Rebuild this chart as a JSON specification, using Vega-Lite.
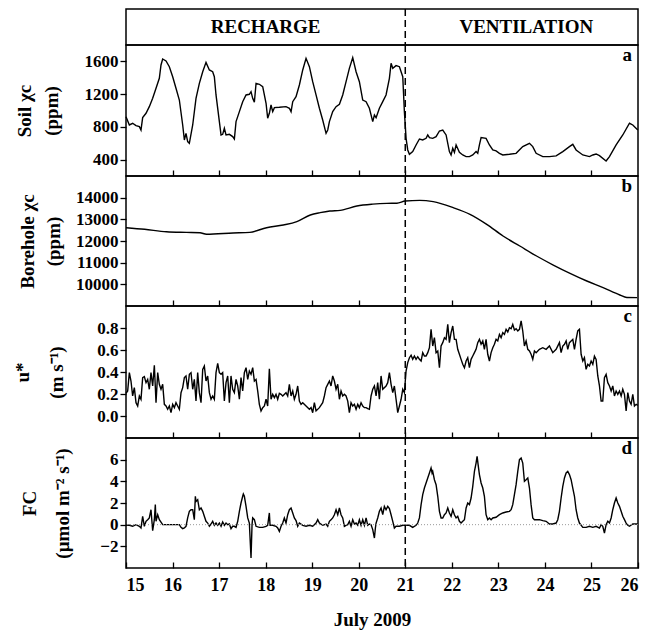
{
"$schema": "https://vega.github.io/schema/vega-lite/v6.json",
"background": "white",
"padding": {"left": 12, "top": 7, "right": 0, "bottom": 0},
"bounds": "flush",
"spacing": 0,
"config": {
  "font": "Liberation Serif",
  "view": {"stroke": "black", "strokeWidth": 1.5},
  "axis": {"labelFont": "Liberation Serif", "labelFontWeight": "bold", "labelFontSize": 17, "labelColor": "black", "labelOverlap": false, "labelSeparation": 0, "tickColor": "black", "tickWidth": 1.3, "domain": false, "grid": false, "titleFont": "Liberation Serif", "titleFontWeight": "bold", "titleFontSize": 19, "titleColor": "black"},
  "title": {"font": "Liberation Serif", "fontWeight": "bold", "fontSize": 19, "color": "black", "anchor": "end", "frame": "group", "baseline": "alphabetic", "offset": -21, "dx": -6},
  "line": {"color": "black", "strokeWidth": 1.4},
  "text": {"font": "Liberation Serif", "fontWeight": "bold", "color": "black"}
},
"datasets": {
  "phases": [{"day": 18.0, "phase": "RECHARGE"}, {"day": 23.6, "phase": "VENTILATION"}],
  "boundary": [{"day": 21}],
  "soil": [
{"day":15.000,"value":925},{"day":15.072,"value":823},{"day":15.143,"value":844},{"day":15.215,"value":815},{"day":15.287,"value":803},{"day":15.322,"value":762},{"day":15.358,"value":913},{"day":15.430,"value":966},{"day":15.501,"value":1047},{"day":15.573,"value":1149},{"day":15.645,"value":1271},{"day":15.716,"value":1393},{"day":15.752,"value":1556},{"day":15.788,"value":1629},{"day":15.860,"value":1605},{"day":15.931,"value":1535},{"day":16.003,"value":1413},{"day":16.074,"value":1271},{"day":16.146,"value":1128},{"day":16.218,"value":823},{"day":16.254,"value":640},{"day":16.289,"value":721},{"day":16.325,"value":620},{"day":16.361,"value":599},{"day":16.433,"value":823},{"day":16.504,"value":1149},{"day":16.576,"value":1332},{"day":16.648,"value":1474},{"day":16.719,"value":1588},{"day":16.791,"value":1495},{"day":16.862,"value":1474},{"day":16.898,"value":1413},{"day":16.934,"value":1190},{"day":17.006,"value":864},{"day":17.042,"value":701},{"day":17.077,"value":709},{"day":17.113,"value":783},{"day":17.149,"value":701},{"day":17.221,"value":709},{"day":17.292,"value":681},{"day":17.328,"value":652},{"day":17.364,"value":864},{"day":17.436,"value":986},{"day":17.507,"value":1108},{"day":17.579,"value":1190},{"day":17.650,"value":1198},{"day":17.686,"value":1230},{"day":17.722,"value":1149},{"day":17.758,"value":1100},{"day":17.794,"value":1332},{"day":17.865,"value":1320},{"day":17.937,"value":1291},{"day":18.009,"value":1088},{"day":18.044,"value":905},{"day":18.080,"value":966},{"day":18.116,"value":1067},{"day":18.152,"value":986},{"day":18.188,"value":1035},{"day":18.295,"value":1039},{"day":18.438,"value":1047},{"day":18.510,"value":1027},{"day":18.546,"value":986},{"day":18.582,"value":1108},{"day":18.653,"value":1169},{"day":18.725,"value":1312},{"day":18.797,"value":1495},{"day":18.868,"value":1637},{"day":18.940,"value":1535},{"day":19.011,"value":1352},{"day":19.083,"value":1190},{"day":19.155,"value":1027},{"day":19.226,"value":884},{"day":19.298,"value":721},{"day":19.334,"value":762},{"day":19.370,"value":864},{"day":19.441,"value":986},{"day":19.513,"value":1047},{"day":19.585,"value":1076},{"day":19.656,"value":1190},{"day":19.728,"value":1352},{"day":19.799,"value":1515},{"day":19.871,"value":1645},{"day":19.943,"value":1474},{"day":20.014,"value":1352},{"day":20.086,"value":1128},{"day":20.158,"value":1108},{"day":20.229,"value":1027},{"day":20.301,"value":864},{"day":20.337,"value":945},{"day":20.373,"value":913},{"day":20.444,"value":1027},{"day":20.516,"value":1108},{"day":20.587,"value":1190},{"day":20.659,"value":1393},{"day":20.695,"value":1576},{"day":20.731,"value":1515},{"day":20.802,"value":1548},{"day":20.874,"value":1535},{"day":20.946,"value":1413},{"day":20.981,"value":986},{"day":21.017,"value":660},{"day":21.053,"value":518},{"day":21.089,"value":465},{"day":21.160,"value":498},{"day":21.232,"value":579},{"day":21.304,"value":652},{"day":21.375,"value":640},{"day":21.447,"value":660},{"day":21.483,"value":701},{"day":21.519,"value":669},{"day":21.590,"value":660},{"day":21.662,"value":681},{"day":21.734,"value":750},{"day":21.805,"value":762},{"day":21.877,"value":701},{"day":21.948,"value":498},{"day":21.984,"value":457},{"day":22.020,"value":538},{"day":22.056,"value":489},{"day":22.092,"value":579},{"day":22.163,"value":489},{"day":22.235,"value":457},{"day":22.307,"value":437},{"day":22.378,"value":437},{"day":22.450,"value":457},{"day":22.521,"value":498},{"day":22.557,"value":477},{"day":22.593,"value":579},{"day":22.629,"value":669},{"day":22.736,"value":660},{"day":22.808,"value":579},{"day":22.880,"value":518},{"day":22.951,"value":506},{"day":23.023,"value":477},{"day":23.095,"value":457},{"day":23.238,"value":465},{"day":23.381,"value":477},{"day":23.524,"value":559},{"day":23.668,"value":599},{"day":23.739,"value":559},{"day":23.811,"value":477},{"day":23.954,"value":437},{"day":24.097,"value":437},{"day":24.241,"value":445},{"day":24.384,"value":498},{"day":24.527,"value":559},{"day":24.599,"value":587},{"day":24.670,"value":518},{"day":24.814,"value":457},{"day":24.957,"value":437},{"day":25.029,"value":457},{"day":25.100,"value":469},{"day":25.172,"value":449},{"day":25.315,"value":384},{"day":25.387,"value":437},{"day":25.530,"value":579},{"day":25.673,"value":701},{"day":25.817,"value":844},{"day":25.888,"value":823},{"day":25.996,"value":762}
  ],
  "borehole": [
{"day":15.00,"value":12614},{"day":15.40,"value":12540},{"day":15.87,"value":12430},{"day":16.30,"value":12400},{"day":16.59,"value":12383},{"day":16.73,"value":12310},{"day":17.30,"value":12369},{"day":17.66,"value":12400},{"day":18.02,"value":12614},{"day":18.38,"value":12738},{"day":18.67,"value":12892},{"day":18.96,"value":13200},{"day":19.17,"value":13308},{"day":19.38,"value":13385},{"day":19.60,"value":13415},{"day":19.96,"value":13615},{"day":20.30,"value":13700},{"day":20.60,"value":13738},{"day":20.82,"value":13745},{"day":21.00,"value":13846},{"day":21.31,"value":13877},{"day":21.60,"value":13815},{"day":22.03,"value":13538},{"day":22.39,"value":13231},{"day":22.75,"value":12769},{"day":23.10,"value":12231},{"day":23.46,"value":11769},{"day":23.82,"value":11308},{"day":24.18,"value":10892},{"day":24.54,"value":10508},{"day":24.90,"value":10154},{"day":25.25,"value":9846},{"day":25.61,"value":9508},{"day":25.76,"value":9390},{"day":25.98,"value":9385}
  ],
  "ustar": [
{"day":15.000,"value":0.206},{"day":15.036,"value":0.227},{"day":15.072,"value":0.394},{"day":15.107,"value":0.318},{"day":15.143,"value":0.182},{"day":15.179,"value":0.258},{"day":15.215,"value":0.121},{"day":15.251,"value":0.091},{"day":15.287,"value":0.182},{"day":15.322,"value":0.152},{"day":15.358,"value":0.349},{"day":15.394,"value":0.358},{"day":15.430,"value":0.303},{"day":15.466,"value":0.333},{"day":15.501,"value":0.243},{"day":15.537,"value":0.394},{"day":15.573,"value":0.273},{"day":15.609,"value":0.461},{"day":15.645,"value":0.121},{"day":15.681,"value":0.394},{"day":15.716,"value":0.288},{"day":15.752,"value":0.243},{"day":15.788,"value":0.288},{"day":15.824,"value":0.106},{"day":15.860,"value":0.091},{"day":15.895,"value":0.061},{"day":15.931,"value":0.091},{"day":15.967,"value":0.030},{"day":16.003,"value":0.106},{"day":16.039,"value":0.076},{"day":16.074,"value":0.121},{"day":16.110,"value":0.091},{"day":16.146,"value":0.061},{"day":16.182,"value":0.212},{"day":16.218,"value":0.258},{"day":16.254,"value":0.349},{"day":16.289,"value":0.364},{"day":16.325,"value":0.243},{"day":16.361,"value":0.379},{"day":16.397,"value":0.394},{"day":16.433,"value":0.243},{"day":16.468,"value":0.333},{"day":16.504,"value":0.136},{"day":16.540,"value":0.394},{"day":16.576,"value":0.212},{"day":16.612,"value":0.121},{"day":16.648,"value":0.424},{"day":16.683,"value":0.455},{"day":16.719,"value":0.318},{"day":16.755,"value":0.364},{"day":16.791,"value":0.212},{"day":16.827,"value":0.152},{"day":16.862,"value":0.182},{"day":16.898,"value":0.152},{"day":16.934,"value":0.394},{"day":16.970,"value":0.479},{"day":17.006,"value":0.394},{"day":17.042,"value":0.379},{"day":17.077,"value":0.394},{"day":17.113,"value":0.136},{"day":17.149,"value":0.303},{"day":17.185,"value":0.364},{"day":17.221,"value":0.121},{"day":17.256,"value":0.364},{"day":17.292,"value":0.243},{"day":17.328,"value":0.212},{"day":17.364,"value":0.333},{"day":17.400,"value":0.273},{"day":17.436,"value":0.152},{"day":17.471,"value":0.349},{"day":17.507,"value":0.227},{"day":17.543,"value":0.394},{"day":17.579,"value":0.439},{"day":17.615,"value":0.333},{"day":17.650,"value":0.409},{"day":17.686,"value":0.379},{"day":17.722,"value":0.439},{"day":17.758,"value":0.318},{"day":17.794,"value":0.333},{"day":17.830,"value":0.227},{"day":17.865,"value":0.106},{"day":17.901,"value":0.046},{"day":17.937,"value":0.076},{"day":17.973,"value":0.091},{"day":18.009,"value":0.152},{"day":18.044,"value":0.091},{"day":18.080,"value":0.430},{"day":18.116,"value":0.152},{"day":18.152,"value":0.197},{"day":18.188,"value":0.167},{"day":18.223,"value":0.197},{"day":18.259,"value":0.152},{"day":18.295,"value":0.206},{"day":18.331,"value":0.197},{"day":18.367,"value":0.182},{"day":18.438,"value":0.212},{"day":18.474,"value":0.182},{"day":18.510,"value":0.288},{"day":18.546,"value":0.182},{"day":18.582,"value":0.227},{"day":18.617,"value":0.152},{"day":18.653,"value":0.197},{"day":18.689,"value":0.273},{"day":18.725,"value":0.136},{"day":18.761,"value":0.106},{"day":18.797,"value":0.121},{"day":18.868,"value":0.091},{"day":18.940,"value":0.061},{"day":18.976,"value":0.076},{"day":19.011,"value":0.030},{"day":19.047,"value":0.121},{"day":19.083,"value":0.046},{"day":19.155,"value":0.076},{"day":19.226,"value":0.121},{"day":19.262,"value":0.182},{"day":19.298,"value":0.258},{"day":19.334,"value":0.288},{"day":19.370,"value":0.318},{"day":19.405,"value":0.273},{"day":19.441,"value":0.364},{"day":19.477,"value":0.318},{"day":19.513,"value":0.243},{"day":19.549,"value":0.288},{"day":19.585,"value":0.152},{"day":19.620,"value":0.227},{"day":19.656,"value":0.182},{"day":19.692,"value":0.197},{"day":19.728,"value":0.182},{"day":19.764,"value":0.136},{"day":19.799,"value":0.030},{"day":19.835,"value":0.121},{"day":19.871,"value":0.091},{"day":19.907,"value":0.106},{"day":19.943,"value":0.061},{"day":19.979,"value":0.106},{"day":20.014,"value":0.076},{"day":20.050,"value":0.121},{"day":20.086,"value":0.091},{"day":20.122,"value":0.076},{"day":20.158,"value":0.076},{"day":20.193,"value":0.067},{"day":20.229,"value":0.061},{"day":20.265,"value":0.182},{"day":20.301,"value":0.243},{"day":20.337,"value":0.273},{"day":20.373,"value":0.182},{"day":20.408,"value":0.303},{"day":20.444,"value":0.152},{"day":20.480,"value":0.364},{"day":20.516,"value":0.243},{"day":20.587,"value":0.273},{"day":20.623,"value":0.303},{"day":20.659,"value":0.394},{"day":20.695,"value":0.288},{"day":20.731,"value":0.212},{"day":20.766,"value":0.273},{"day":20.802,"value":0.152},{"day":20.838,"value":0.030},{"day":20.874,"value":0.091},{"day":20.910,"value":0.152},{"day":20.946,"value":0.243},{"day":20.981,"value":0.212},{"day":21.017,"value":0.409},{"day":21.053,"value":0.485},{"day":21.089,"value":0.530},{"day":21.125,"value":0.552},{"day":21.160,"value":0.515},{"day":21.196,"value":0.545},{"day":21.232,"value":0.515},{"day":21.268,"value":0.539},{"day":21.304,"value":0.515},{"day":21.340,"value":0.500},{"day":21.375,"value":0.576},{"day":21.411,"value":0.545},{"day":21.447,"value":0.545},{"day":21.483,"value":0.576},{"day":21.519,"value":0.621},{"day":21.554,"value":0.788},{"day":21.590,"value":0.636},{"day":21.626,"value":0.712},{"day":21.662,"value":0.576},{"day":21.698,"value":0.591},{"day":21.734,"value":0.439},{"day":21.769,"value":0.636},{"day":21.805,"value":0.667},{"day":21.841,"value":0.712},{"day":21.877,"value":0.697},{"day":21.913,"value":0.833},{"day":21.948,"value":0.667},{"day":21.984,"value":0.758},{"day":22.020,"value":0.818},{"day":22.056,"value":0.697},{"day":22.092,"value":0.697},{"day":22.127,"value":0.606},{"day":22.163,"value":0.561},{"day":22.199,"value":0.515},{"day":22.235,"value":0.470},{"day":22.271,"value":0.439},{"day":22.307,"value":0.500},{"day":22.342,"value":0.530},{"day":22.378,"value":0.439},{"day":22.414,"value":0.515},{"day":22.450,"value":0.545},{"day":22.486,"value":0.576},{"day":22.521,"value":0.606},{"day":22.557,"value":0.667},{"day":22.593,"value":0.697},{"day":22.629,"value":0.652},{"day":22.665,"value":0.682},{"day":22.700,"value":0.606},{"day":22.736,"value":0.697},{"day":22.772,"value":0.561},{"day":22.808,"value":0.500},{"day":22.844,"value":0.576},{"day":22.880,"value":0.621},{"day":22.915,"value":0.652},{"day":22.951,"value":0.697},{"day":22.987,"value":0.682},{"day":23.023,"value":0.742},{"day":23.059,"value":0.712},{"day":23.095,"value":0.758},{"day":23.130,"value":0.742},{"day":23.166,"value":0.788},{"day":23.202,"value":0.764},{"day":23.238,"value":0.803},{"day":23.274,"value":0.794},{"day":23.309,"value":0.833},{"day":23.345,"value":0.782},{"day":23.381,"value":0.794},{"day":23.417,"value":0.773},{"day":23.453,"value":0.788},{"day":23.489,"value":0.864},{"day":23.524,"value":0.773},{"day":23.560,"value":0.636},{"day":23.596,"value":0.682},{"day":23.632,"value":0.606},{"day":23.668,"value":0.591},{"day":23.703,"value":0.561},{"day":23.739,"value":0.515},{"day":23.775,"value":0.591},{"day":23.811,"value":0.576},{"day":23.882,"value":0.606},{"day":23.954,"value":0.621},{"day":24.026,"value":0.606},{"day":24.097,"value":0.636},{"day":24.169,"value":0.576},{"day":24.241,"value":0.606},{"day":24.312,"value":0.667},{"day":24.348,"value":0.576},{"day":24.384,"value":0.636},{"day":24.420,"value":0.652},{"day":24.456,"value":0.682},{"day":24.491,"value":0.606},{"day":24.527,"value":0.667},{"day":24.599,"value":0.697},{"day":24.635,"value":0.606},{"day":24.670,"value":0.697},{"day":24.706,"value":0.773},{"day":24.742,"value":0.788},{"day":24.778,"value":0.561},{"day":24.814,"value":0.500},{"day":24.849,"value":0.530},{"day":24.885,"value":0.424},{"day":24.921,"value":0.470},{"day":24.957,"value":0.455},{"day":24.993,"value":0.500},{"day":25.029,"value":0.470},{"day":25.064,"value":0.545},{"day":25.100,"value":0.515},{"day":25.136,"value":0.364},{"day":25.172,"value":0.273},{"day":25.208,"value":0.136},{"day":25.243,"value":0.136},{"day":25.279,"value":0.349},{"day":25.315,"value":0.379},{"day":25.351,"value":0.303},{"day":25.387,"value":0.273},{"day":25.423,"value":0.227},{"day":25.458,"value":0.273},{"day":25.494,"value":0.182},{"day":25.530,"value":0.227},{"day":25.566,"value":0.197},{"day":25.602,"value":0.227},{"day":25.638,"value":0.182},{"day":25.673,"value":0.243},{"day":25.709,"value":0.197},{"day":25.745,"value":0.046},{"day":25.781,"value":0.212},{"day":25.817,"value":0.136},{"day":25.852,"value":0.106},{"day":25.888,"value":0.197},{"day":25.924,"value":0.091},{"day":25.960,"value":0.106},{"day":25.996,"value":0.097}
  ],
  "fc": [
{"day":15.000,"value":-0.06},{"day":15.072,"value":-0.06},{"day":15.143,"value":-0.15},{"day":15.215,"value":0.0},{"day":15.287,"value":-0.15},{"day":15.322,"value":-0.31},{"day":15.358,"value":0.77},{"day":15.394,"value":-0.15},{"day":15.430,"value":0.31},{"day":15.466,"value":0.46},{"day":15.501,"value":0.62},{"day":15.537,"value":1.38},{"day":15.573,"value":-0.55},{"day":15.609,"value":0.46},{"day":15.630,"value":1.85},{"day":15.645,"value":0.31},{"day":15.681,"value":0.92},{"day":15.716,"value":0.46},{"day":15.788,"value":0.0},{"day":15.860,"value":0.0},{"day":15.931,"value":0.0},{"day":16.003,"value":0.0},{"day":16.074,"value":0.0},{"day":16.146,"value":0.0},{"day":16.182,"value":-0.25},{"day":16.218,"value":-0.37},{"day":16.254,"value":-0.31},{"day":16.289,"value":-0.15},{"day":16.325,"value":0.62},{"day":16.361,"value":1.23},{"day":16.397,"value":1.38},{"day":16.433,"value":1.38},{"day":16.468,"value":0.46},{"day":16.490,"value":2.62},{"day":16.504,"value":2.15},{"day":16.540,"value":2.31},{"day":16.576,"value":1.38},{"day":16.612,"value":1.54},{"day":16.648,"value":1.23},{"day":16.683,"value":0.77},{"day":16.719,"value":0.31},{"day":16.755,"value":0.15},{"day":16.791,"value":-0.15},{"day":16.827,"value":0.06},{"day":16.862,"value":0.31},{"day":16.898,"value":-0.06},{"day":16.934,"value":0.15},{"day":16.970,"value":-0.06},{"day":17.006,"value":0.15},{"day":17.042,"value":-0.15},{"day":17.077,"value":0.25},{"day":17.113,"value":-0.06},{"day":17.149,"value":0.15},{"day":17.185,"value":0.0},{"day":17.221,"value":0.06},{"day":17.256,"value":-0.37},{"day":17.292,"value":-0.15},{"day":17.328,"value":-0.15},{"day":17.364,"value":-0.25},{"day":17.400,"value":0.31},{"day":17.436,"value":1.23},{"day":17.471,"value":2.0},{"day":17.507,"value":2.62},{"day":17.521,"value":2.83},{"day":17.543,"value":2.62},{"day":17.579,"value":1.69},{"day":17.615,"value":0.62},{"day":17.650,"value":0.15},{"day":17.686,"value":-3.08},{"day":17.708,"value":0.0},{"day":17.722,"value":0.62},{"day":17.758,"value":0.46},{"day":17.794,"value":-0.15},{"day":17.865,"value":-0.25},{"day":17.937,"value":-0.25},{"day":18.009,"value":-0.15},{"day":18.044,"value":-0.06},{"day":18.080,"value":1.08},{"day":18.095,"value":-0.06},{"day":18.152,"value":-0.06},{"day":18.223,"value":-0.15},{"day":18.259,"value":-0.31},{"day":18.295,"value":-0.62},{"day":18.331,"value":-0.15},{"day":18.367,"value":0.15},{"day":18.402,"value":0.62},{"day":18.438,"value":0.15},{"day":18.474,"value":0.92},{"day":18.510,"value":1.38},{"day":18.546,"value":1.54},{"day":18.582,"value":1.08},{"day":18.617,"value":0.62},{"day":18.653,"value":0.37},{"day":18.689,"value":-0.15},{"day":18.725,"value":0.15},{"day":18.797,"value":-0.06},{"day":18.868,"value":-0.15},{"day":18.940,"value":-0.06},{"day":19.011,"value":-0.15},{"day":19.083,"value":0.15},{"day":19.119,"value":0.46},{"day":19.155,"value":0.15},{"day":19.226,"value":-0.06},{"day":19.298,"value":0.06},{"day":19.334,"value":-0.15},{"day":19.370,"value":0.31},{"day":19.405,"value":0.46},{"day":19.441,"value":0.62},{"day":19.477,"value":0.92},{"day":19.513,"value":1.38},{"day":19.549,"value":0.92},{"day":19.585,"value":1.54},{"day":19.620,"value":0.92},{"day":19.656,"value":0.62},{"day":19.692,"value":-0.15},{"day":19.728,"value":-0.06},{"day":19.764,"value":0.0},{"day":19.799,"value":0.31},{"day":19.835,"value":-0.15},{"day":19.871,"value":0.46},{"day":19.907,"value":0.06},{"day":19.943,"value":0.15},{"day":19.979,"value":-0.06},{"day":20.014,"value":0.46},{"day":20.050,"value":-0.06},{"day":20.086,"value":0.46},{"day":20.122,"value":-0.06},{"day":20.158,"value":0.62},{"day":20.193,"value":-0.06},{"day":20.229,"value":0.06},{"day":20.265,"value":0.0},{"day":20.301,"value":-0.46},{"day":20.337,"value":-1.23},{"day":20.358,"value":-0.31},{"day":20.373,"value":0.15},{"day":20.408,"value":0.62},{"day":20.444,"value":1.23},{"day":20.480,"value":1.54},{"day":20.516,"value":0.92},{"day":20.551,"value":1.69},{"day":20.587,"value":1.38},{"day":20.623,"value":1.69},{"day":20.659,"value":1.48},{"day":20.695,"value":0.92},{"day":20.731,"value":0.31},{"day":20.766,"value":-0.31},{"day":20.802,"value":-0.15},{"day":20.874,"value":-0.15},{"day":20.946,"value":-0.06},{"day":21.017,"value":-0.06},{"day":21.089,"value":-0.06},{"day":21.160,"value":-0.25},{"day":21.232,"value":-0.06},{"day":21.268,"value":0.15},{"day":21.304,"value":0.62},{"day":21.340,"value":1.85},{"day":21.375,"value":2.77},{"day":21.411,"value":3.38},{"day":21.447,"value":3.85},{"day":21.483,"value":4.31},{"day":21.519,"value":4.77},{"day":21.554,"value":5.23},{"day":21.576,"value":4.77},{"day":21.590,"value":4.92},{"day":21.626,"value":4.15},{"day":21.662,"value":3.69},{"day":21.698,"value":2.62},{"day":21.734,"value":1.23},{"day":21.769,"value":0.62},{"day":21.805,"value":0.62},{"day":21.841,"value":0.92},{"day":21.877,"value":1.08},{"day":21.913,"value":1.54},{"day":21.948,"value":1.08},{"day":21.984,"value":0.77},{"day":22.020,"value":1.38},{"day":22.056,"value":0.92},{"day":22.092,"value":0.62},{"day":22.127,"value":0.77},{"day":22.163,"value":0.31},{"day":22.199,"value":0.15},{"day":22.235,"value":0.31},{"day":22.271,"value":0.46},{"day":22.307,"value":1.54},{"day":22.342,"value":2.0},{"day":22.378,"value":1.85},{"day":22.414,"value":2.46},{"day":22.450,"value":3.54},{"day":22.486,"value":4.92},{"day":22.521,"value":5.69},{"day":22.543,"value":6.31},{"day":22.565,"value":5.54},{"day":22.593,"value":4.62},{"day":22.629,"value":3.85},{"day":22.665,"value":3.38},{"day":22.700,"value":2.62},{"day":22.736,"value":0.92},{"day":22.772,"value":0.46},{"day":22.808,"value":0.62},{"day":22.844,"value":0.46},{"day":22.880,"value":0.62},{"day":22.951,"value":0.68},{"day":23.023,"value":0.92},{"day":23.095,"value":1.08},{"day":23.166,"value":1.17},{"day":23.238,"value":1.23},{"day":23.274,"value":1.38},{"day":23.309,"value":1.85},{"day":23.345,"value":2.77},{"day":23.381,"value":3.69},{"day":23.417,"value":4.92},{"day":23.453,"value":6.0},{"day":23.489,"value":6.15},{"day":23.524,"value":5.69},{"day":23.560,"value":4.0},{"day":23.596,"value":4.15},{"day":23.632,"value":4.31},{"day":23.668,"value":3.38},{"day":23.703,"value":1.85},{"day":23.739,"value":0.62},{"day":23.775,"value":0.46},{"day":23.811,"value":0.46},{"day":23.882,"value":0.46},{"day":23.954,"value":0.37},{"day":24.026,"value":0.31},{"day":24.097,"value":0.06},{"day":24.169,"value":0.06},{"day":24.241,"value":0.15},{"day":24.276,"value":0.46},{"day":24.312,"value":1.23},{"day":24.348,"value":2.46},{"day":24.384,"value":3.54},{"day":24.420,"value":4.31},{"day":24.456,"value":4.77},{"day":24.491,"value":4.92},{"day":24.527,"value":4.62},{"day":24.563,"value":4.15},{"day":24.599,"value":3.38},{"day":24.635,"value":2.62},{"day":24.670,"value":1.38},{"day":24.706,"value":0.62},{"day":24.742,"value":0.15},{"day":24.814,"value":-0.25},{"day":24.885,"value":-0.25},{"day":24.957,"value":-0.15},{"day":25.029,"value":-0.25},{"day":25.100,"value":-0.15},{"day":25.172,"value":-0.31},{"day":25.208,"value":0.0},{"day":25.243,"value":-0.15},{"day":25.279,"value":-0.77},{"day":25.315,"value":0.0},{"day":25.351,"value":0.31},{"day":25.387,"value":0.15},{"day":25.423,"value":0.62},{"day":25.458,"value":1.38},{"day":25.494,"value":2.0},{"day":25.530,"value":2.46},{"day":25.566,"value":2.0},{"day":25.602,"value":1.69},{"day":25.638,"value":1.23},{"day":25.673,"value":0.77},{"day":25.709,"value":0.46},{"day":25.745,"value":0.15},{"day":25.781,"value":-0.06},{"day":25.817,"value":-0.15},{"day":25.888,"value":0.06},{"day":25.996,"value":0.06}
  ]
},
"vconcat": [
  {
    "width": 512, "height": 36,
    "layer": [
      {"data": {"name": "phases"}, "mark": {"type": "text", "fontSize": 19, "baseline": "middle", "align": "center"},
       "encoding": {"x": {"field": "day", "type": "quantitative", "scale": {"domain": [15, 26], "nice": false, "zero": false}, "axis": null}, "text": {"field": "phase"}}},
      {"data": {"name": "boundary"}, "mark": {"type": "rule", "strokeDash": [7, 4], "strokeWidth": 1.5, "color": "black"},
       "encoding": {"x": {"field": "day", "type": "quantitative"}}}
    ]
  },
  {
    "width": 512, "height": 131,
    "title": {"text": "a"},
    "layer": [
      {"data": {"name": "soil"}, "mark": {"type": "line"},
       "encoding": {
         "x": {"field": "day", "type": "quantitative", "scale": {"domain": [15, 26], "nice": false, "zero": false}, "axis": {"values": [16,17,18,19,20,21,22,23,24,25], "labels": false, "title": null, "tickSize": -6}},
         "y": {"field": "value", "type": "quantitative", "scale": {"domain": [200, 1800], "nice": false, "zero": false}, "axis": {"values": [400, 800, 1200, 1600], "format": "d", "labelOverlap": false, "tickSize": 6, "labelPadding": 2, "title": ["Soil χc", "(ppm)"], "titleX": -102, "titleBaseline": "middle", "titleAlign": "center", "titleLineHeight": 27}}}},
      {"data": {"name": "boundary"}, "mark": {"type": "rule", "strokeDash": [7, 4], "strokeWidth": 1.5, "color": "black"},
       "encoding": {"x": {"field": "day", "type": "quantitative"}}}
    ]
  },
  {
    "width": 512, "height": 130,
    "title": {"text": "b"},
    "layer": [
      {"data": {"name": "borehole"}, "mark": {"type": "line", "interpolate": "monotone"},
       "encoding": {
         "x": {"field": "day", "type": "quantitative", "scale": {"domain": [15, 26], "nice": false, "zero": false}, "axis": {"values": [16,17,18,19,20,21,22,23,24,25], "labels": false, "title": null, "tickSize": -6}},
         "y": {"field": "value", "type": "quantitative", "scale": {"domain": [9000, 15000], "nice": false, "zero": false}, "axis": {"values": [10000, 11000, 12000, 13000, 14000], "format": "d", "labelOverlap": false, "tickSize": 6, "labelPadding": 2, "title": ["Borehole χc", "(ppm)"], "titleX": -99, "titleBaseline": "middle", "titleAlign": "center", "titleLineHeight": 26}}}},
      {"data": {"name": "boundary"}, "mark": {"type": "rule", "strokeDash": [7, 4], "strokeWidth": 1.5, "color": "black"},
       "encoding": {"x": {"field": "day", "type": "quantitative"}}}
    ]
  },
  {
    "width": 512, "height": 132,
    "title": {"text": "c"},
    "layer": [
      {"data": {"name": "ustar"}, "mark": {"type": "line"},
       "encoding": {
         "x": {"field": "day", "type": "quantitative", "scale": {"domain": [15, 26], "nice": false, "zero": false}, "axis": {"values": [16,17,18,19,20,21,22,23,24,25], "labels": false, "title": null, "tickSize": -6}},
         "y": {"field": "value", "type": "quantitative", "scale": {"domain": [-0.2, 1.0], "nice": false, "zero": false}, "axis": {"values": [0, 0.2, 0.4, 0.6, 0.8], "format": ".1f", "labelOverlap": false, "tickSize": 6, "labelPadding": 2, "title": ["u*", "(m s⁻¹)"], "titleX": -104, "titleBaseline": "middle", "titleAlign": "center", "titleLineHeight": 34}}}},
      {"data": {"name": "boundary"}, "mark": {"type": "rule", "strokeDash": [7, 4], "strokeWidth": 1.5, "color": "black"},
       "encoding": {"x": {"field": "day", "type": "quantitative"}}}
    ]
  },
  {
    "width": 512, "height": 130,
    "title": {"text": "d"},
    "layer": [
      {"data": {"name": "fc"}, "mark": {"type": "line"},
       "encoding": {
         "x": {"field": "day", "type": "quantitative", "scale": {"domain": [15, 26], "nice": false, "zero": false}, "axis": {"values": [15,16,17,18,19,20,21,22,23,24,25,26], "labelOverlap": false, "labelFontSize": 18, "labelPadding": 14, "title": "July 2009", "titleFontSize": 19, "titlePadding": 16, "titleX": 246, "tickSize": -6}},
         "y": {"field": "value", "type": "quantitative", "scale": {"domain": [-4, 8], "nice": false, "zero": false}, "axis": {"values": [-2, 0, 2, 4, 6], "labelOverlap": false, "tickSize": 6, "labelPadding": 2, "title": ["FC", "(µmol m⁻² s⁻¹)"], "titleX": -97, "titleBaseline": "middle", "titleAlign": "center", "titleLineHeight": 33}}}},
      {"data": {"values": [{"value": 0}]}, "mark": {"type": "rule", "strokeDash": [1, 2], "strokeWidth": 1, "color": "#9a9a9a"},
       "encoding": {"y": {"field": "value", "type": "quantitative", "axis": {"values": [-2, 0, 2, 4, 6], "labelOverlap": false, "tickSize": 6, "labelPadding": 2, "title": ["FC", "(µmol m⁻² s⁻¹)"], "titleX": -97, "titleBaseline": "middle", "titleAlign": "center", "titleLineHeight": 33}}}},
      {"data": {"name": "boundary"}, "mark": {"type": "rule", "strokeDash": [7, 4], "strokeWidth": 1.5, "color": "black"},
       "encoding": {"x": {"field": "day", "type": "quantitative"}}}
    ]
  }
]
}
